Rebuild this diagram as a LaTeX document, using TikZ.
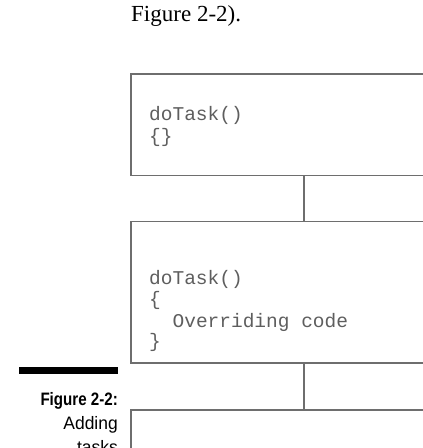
\documentclass[tikz,border=0pt]{standalone}
\usepackage{fontspec}
\usepackage{tikz}
\setmonofont{Liberation Mono}
\newfontfamily\introfont{Liberation Serif}
\newfontfamily\capbold[FakeStretch=0.84]{Liberation Sans Bold}
\newfontfamily\capreg[FakeStretch=0.97]{Liberation Sans}
\definecolor{linegray}{HTML}{6e6e6e}
\definecolor{codegray}{HTML}{5e5e5e}

\begin{document}
\begin{tikzpicture}[x=1pt, y=-1pt,
    classbox/.style={draw=linegray, line width=1.3pt, rectangle, inner sep=0,
      minimum width=346pt},
    code/.style={anchor=base west, inner sep=0, text=codegray,
      font=\fontsize{19.5}{21}\selectfont\ttfamily},
    caption/.style={anchor=base east, inner sep=0}]
    \clip (0, 0) rectangle (423, 448);
    \node[anchor=base west, inner sep=0, font=\fontsize{23}{26}\selectfont\introfont] (intro) at (131, 21) {Figure 2-2).};
    % boxes
    \node[classbox, minimum height=101.5pt] (base) at (304, 124.75) {};
    \node[classbox, minimum height=141.5pt] (child) at (304, 292.25) {};
    \node[classbox, minimum height=141.5pt] (grand) at (304, 480.75) {};
    \draw[linegray, line width=1.3pt] (base.south) -- (child.north);
    \draw[linegray, line width=1.3pt] (child.south) -- (grand.north);
    % code
    \node[code] (basesig) at (149, 120) {doTask()};
    \node[code] (basebody) at (149, 142) {\{\}};
    \node[code] (childsig) at (149, 284) {doTask()};
    \node[code] (childopen) at (149, 305) {\{};
    \node[code] (childbody) at (172.4, 327) {Overriding code};
    \node[code] (childclose) at (149, 347) {\}};
    % caption
    \fill (19, 367) rectangle (118, 374);
    \node[caption, font=\fontsize{18}{24}\selectfont\capbold] (capnum) at (118, 405) {Figure 2-2:};
    \node[caption, font=\fontsize{18}{24}\selectfont\capreg] (captext) at (118, 429) {Adding};
    \node[caption, font=\fontsize{18}{24}\selectfont\capreg] (captext2) at (118, 453) {tasks};
\end{tikzpicture}
\end{document}
